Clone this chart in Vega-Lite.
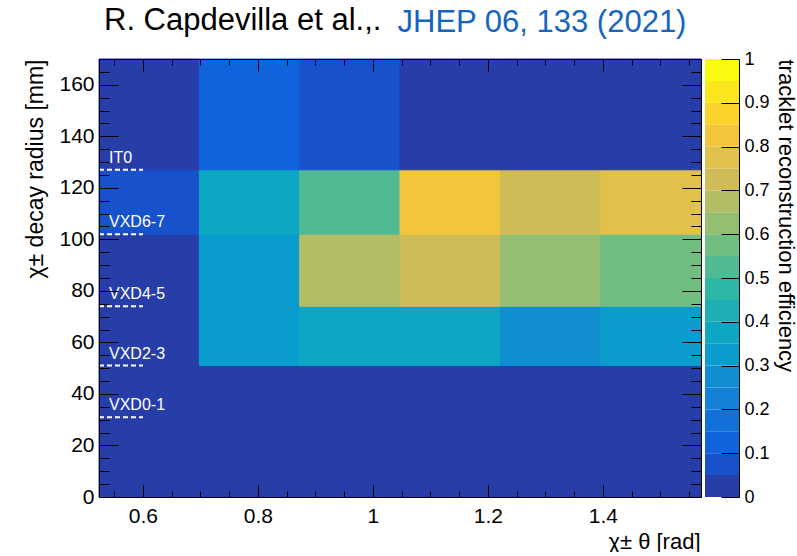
{
  "$schema": "https://vega.github.io/schema/vega-lite/v6.json",
  "autosize": {"type": "pad"},
  "padding": {"left": 23, "top": 5, "right": 0, "bottom": 0},
  "background": "white",
  "config": {
    "font": "Liberation Sans",
    "view": {"stroke": null},
    "axis": {"grid": false, "labelFont": "Liberation Sans", "titleFont": "Liberation Sans", "titleFontWeight": "normal", "labelColor": "black", "titleColor": "black", "tickColor": "black", "domainColor": "black", "domainWidth": 1, "tickWidth": 1, "labelFlush": false, "labelOverlap": false}
  },
  "title": {"text": "R. Capdevilla et al.,.", "anchor": "start", "frame": "group", "font": "Liberation Sans", "fontSize": 31, "fontWeight": "normal", "color": "black", "baseline": "top", "offset": 0, "dx": 5, "dy": 31},
  "datasets": {
    "cells": [
      {"t0": 0.5236, "t1": 0.6981, "r0": 0, "r1": 51, "eff": 0},
      {"t0": 0.6981, "t1": 0.8727, "r0": 0, "r1": 51, "eff": 0},
      {"t0": 0.8727, "t1": 1.0472, "r0": 0, "r1": 51, "eff": 0},
      {"t0": 1.0472, "t1": 1.2217, "r0": 0, "r1": 51, "eff": 0},
      {"t0": 1.2217, "t1": 1.3963, "r0": 0, "r1": 51, "eff": 0},
      {"t0": 1.3963, "t1": 1.5708, "r0": 0, "r1": 51, "eff": 0},
      {"t0": 0.5236, "t1": 0.6981, "r0": 51, "r1": 74, "eff": 0},
      {"t0": 0.6981, "t1": 0.8727, "r0": 51, "r1": 74, "eff": 0.33},
      {"t0": 0.8727, "t1": 1.0472, "r0": 51, "r1": 74, "eff": 0.37},
      {"t0": 1.0472, "t1": 1.2217, "r0": 51, "r1": 74, "eff": 0.38},
      {"t0": 1.2217, "t1": 1.3963, "r0": 51, "r1": 74, "eff": 0.28},
      {"t0": 1.3963, "t1": 1.5708, "r0": 51, "r1": 74, "eff": 0.33},
      {"t0": 0.5236, "t1": 0.6981, "r0": 74, "r1": 102, "eff": 0},
      {"t0": 0.6981, "t1": 0.8727, "r0": 74, "r1": 102, "eff": 0.32},
      {"t0": 0.8727, "t1": 1.0472, "r0": 74, "r1": 102, "eff": 0.68},
      {"t0": 1.0472, "t1": 1.2217, "r0": 74, "r1": 102, "eff": 0.72},
      {"t0": 1.2217, "t1": 1.3963, "r0": 74, "r1": 102, "eff": 0.62},
      {"t0": 1.3963, "t1": 1.5708, "r0": 74, "r1": 102, "eff": 0.57},
      {"t0": 0.5236, "t1": 0.6981, "r0": 102, "r1": 127, "eff": 0.08},
      {"t0": 0.6981, "t1": 0.8727, "r0": 102, "r1": 127, "eff": 0.37},
      {"t0": 0.8727, "t1": 1.0472, "r0": 102, "r1": 127, "eff": 0.52},
      {"t0": 1.0472, "t1": 1.2217, "r0": 102, "r1": 127, "eff": 0.83},
      {"t0": 1.2217, "t1": 1.3963, "r0": 102, "r1": 127, "eff": 0.73},
      {"t0": 1.3963, "t1": 1.5708, "r0": 102, "r1": 127, "eff": 0.78},
      {"t0": 0.5236, "t1": 0.6981, "r0": 127, "r1": 170, "eff": 0},
      {"t0": 0.6981, "t1": 0.8727, "r0": 127, "r1": 170, "eff": 0.12},
      {"t0": 0.8727, "t1": 1.0472, "r0": 127, "r1": 170, "eff": 0.07},
      {"t0": 1.0472, "t1": 1.2217, "r0": 127, "r1": 170, "eff": 0},
      {"t0": 1.2217, "t1": 1.3963, "r0": 127, "r1": 170, "eff": 0},
      {"t0": 1.3963, "t1": 1.5708, "r0": 127, "r1": 170, "eff": 0}
    ],
    "layers": [
      {"name": "VXD0-1", "r": 31},
      {"name": "VXD2-3", "r": 51},
      {"name": "VXD4-5", "r": 74},
      {"name": "VXD6-7", "r": 102},
      {"name": "IT0", "r": 127}
    ],
    "bins": [
      {"lo": 0.0, "hi": 0.05, "mid": 0.025},
      {"lo": 0.05, "hi": 0.1, "mid": 0.075},
      {"lo": 0.1, "hi": 0.15, "mid": 0.125},
      {"lo": 0.15, "hi": 0.2, "mid": 0.175},
      {"lo": 0.2, "hi": 0.25, "mid": 0.225},
      {"lo": 0.25, "hi": 0.3, "mid": 0.275},
      {"lo": 0.3, "hi": 0.35, "mid": 0.325},
      {"lo": 0.35, "hi": 0.4, "mid": 0.375},
      {"lo": 0.4, "hi": 0.45, "mid": 0.425},
      {"lo": 0.45, "hi": 0.5, "mid": 0.475},
      {"lo": 0.5, "hi": 0.55, "mid": 0.525},
      {"lo": 0.55, "hi": 0.6, "mid": 0.575},
      {"lo": 0.6, "hi": 0.65, "mid": 0.625},
      {"lo": 0.65, "hi": 0.7, "mid": 0.675},
      {"lo": 0.7, "hi": 0.75, "mid": 0.725},
      {"lo": 0.75, "hi": 0.8, "mid": 0.775},
      {"lo": 0.8, "hi": 0.85, "mid": 0.825},
      {"lo": 0.85, "hi": 0.9, "mid": 0.875},
      {"lo": 0.9, "hi": 0.95, "mid": 0.925},
      {"lo": 0.95, "hi": 1.0, "mid": 0.975}
    ]
  },
  "spacing": 4,
  "bounds": "flush",
  "hconcat": [
    {
      "width": 602,
      "height": 438,
      "layer": [
        {
          "data": {"name": "cells"},
          "mark": {"type": "rect", "strokeWidth": 1},
          "encoding": {
            "x": {"field": "t0", "type": "quantitative",
              "scale": {"domain": [0.5236, 1.5708], "zero": false, "nice": false},
              "axis": {"orient": "bottom", "domain": true, "zindex": 2,
                "values": [0.55, 0.6, 0.65, 0.7, 0.75, 0.8, 0.85, 0.9, 0.95, 1.0, 1.05, 1.1, 1.15, 1.2, 1.25, 1.3, 1.35, 1.4, 1.45, 1.5, 1.55],
                "labelExpr": "abs(datum.value*5 - round(datum.value*5)) < 0.001 ? format(datum.value, '~g') : ''",
                "tickSize": {"condition": {"test": "abs(datum.value*5 - round(datum.value*5)) < 0.001", "value": -12}, "value": -6},
                "labelFontSize": 21, "labelPadding": 20,
                "title": "χ± θ [rad]", "titleFontSize": 22, "titleAlign": "right", "titleBaseline": "alphabetic", "titleX": 601, "titleY": 51}},
            "x2": {"field": "t1"},
            "y": {"field": "r0", "type": "quantitative",
              "scale": {"domain": [0, 170], "nice": false, "zero": false},
              "axis": {"orient": "left", "domain": true, "zindex": 2,
                "values": [0, 5, 10, 15, 20, 25, 30, 35, 40, 45, 50, 55, 60, 65, 70, 75, 80, 85, 90, 95, 100, 105, 110, 115, 120, 125, 130, 135, 140, 145, 150, 155, 160, 165, 170],
                "labelExpr": "datum.value % 20 === 0 && datum.value < 170 ? datum.label : ''",
                "tickSize": {"condition": {"test": "datum.value % 20 === 0", "value": -19}, "value": -10},
                "labelFontSize": 21, "labelPadding": 24,
                "title": "χ± decay radius [mm]", "titleFontSize": 23, "titleAngle": -90, "titleAlign": "right", "titleBaseline": "alphabetic", "titleX": -57, "titleY": 0}},
            "y2": {"field": "r1"},
            "color": {"field": "eff", "type": "quantitative",
              "scale": {"type": "threshold", "domain": [0.05, 0.1, 0.15, 0.2, 0.25, 0.3, 0.35, 0.4, 0.45, 0.5, 0.55, 0.6, 0.65, 0.7, 0.75, 0.8, 0.85, 0.9, 0.95],
                "range": ["#273da7", "#1751cb", "#1063dc", "#1271d9", "#1480d6", "#0f8ed1", "#099ccc", "#0da7c3", "#1dafb4", "#2db7a4", "#51ba92", "#72bd81", "#94be72", "#b2bd66", "#d0bb59", "#e1c04b", "#f4c53b", "#fdd22b", "#fbe61d", "#f9fa0f"]},
              "legend": null},
            "stroke": {"field": "eff", "type": "quantitative",
              "scale": {"type": "threshold", "domain": [0.05, 0.1, 0.15, 0.2, 0.25, 0.3, 0.35, 0.4, 0.45, 0.5, 0.55, 0.6, 0.65, 0.7, 0.75, 0.8, 0.85, 0.9, 0.95],
                "range": ["#273da7", "#1751cb", "#1063dc", "#1271d9", "#1480d6", "#0f8ed1", "#099ccc", "#0da7c3", "#1dafb4", "#2db7a4", "#51ba92", "#72bd81", "#94be72", "#b2bd66", "#d0bb59", "#e1c04b", "#f4c53b", "#fdd22b", "#fbe61d", "#f9fa0f"]},
              "legend": null}
          }
        },
        {
          "data": {"name": "layers"},
          "mark": {"type": "rule", "color": "white", "strokeWidth": 2, "strokeDash": [5, 3]},
          "encoding": {
            "y": {"field": "r", "type": "quantitative",
              "axis": {"orient": "right", "domain": true, "labels": false, "title": null, "zindex": 2,
                "values": [0, 5, 10, 15, 20, 25, 30, 35, 40, 45, 50, 55, 60, 65, 70, 75, 80, 85, 90, 95, 100, 105, 110, 115, 120, 125, 130, 135, 140, 145, 150, 155, 160, 165, 170],
                "tickSize": {"condition": {"test": "datum.value % 20 === 0", "value": -19}, "value": -10}}},
            "x": {"datum": 0.5236, "type": "quantitative",
              "axis": {"orient": "top", "domain": true, "labels": false, "zindex": 2,
                "values": [0.55, 0.6, 0.65, 0.7, 0.75, 0.8, 0.85, 0.9, 0.95, 1.0, 1.05, 1.1, 1.15, 1.2, 1.25, 1.3, 1.35, 1.4, 1.45, 1.5, 1.55],
                "tickSize": {"condition": {"test": "abs(datum.value*5 - round(datum.value*5)) < 0.001", "value": -12}, "value": -6},
                "title": "JHEP 06, 133 (2021)", "titleColor": "#1565c0", "titleFontSize": 31, "titleAlign": "left", "titleBaseline": "top", "titleX": 298, "titleY": -52}},
            "x2": {"datum": 0.6}
          }
        },
        {
          "data": {"name": "layers"},
          "mark": {"type": "text", "color": "white", "font": "Liberation Sans", "fontSize": 16, "align": "left", "baseline": "alphabetic", "dy": -7},
          "encoding": {
            "y": {"field": "r", "type": "quantitative", "axis": null},
            "x": {"datum": 0.541, "type": "quantitative", "axis": null},
            "text": {"field": "name"}
          }
        }
      ],
      "resolve": {"axis": {"x": "independent", "y": "independent"}}
    },
    {
      "width": 34,
      "height": 438,
      "data": {"name": "bins"},
      "mark": {"type": "rect", "strokeWidth": 1},
      "encoding": {
        "y": {"field": "lo", "type": "quantitative",
          "scale": {"domain": [0, 1], "nice": false, "zero": false},
          "axis": {"orient": "right", "domain": true, "zindex": 2,
            "values": [0, 0.1, 0.2, 0.3, 0.4, 0.5, 0.6, 0.7, 0.8, 0.9, 1],
            "labelExpr": "format(datum.value, '~g')",
            "tickSize": -18, "labelPadding": 23, "labelFontSize": 18,
            "title": "tracklet reconstruction efficiency", "titleFontSize": 22, "titleAngle": 90, "titleAlign": "left", "titleBaseline": "alphabetic", "titleX": 39, "titleY": 0}},
        "y2": {"field": "hi"},
        "color": {"field": "mid", "type": "quantitative",
          "scale": {"type": "threshold", "domain": [0.05, 0.1, 0.15, 0.2, 0.25, 0.3, 0.35, 0.4, 0.45, 0.5, 0.55, 0.6, 0.65, 0.7, 0.75, 0.8, 0.85, 0.9, 0.95],
            "range": ["#273da7", "#1751cb", "#1063dc", "#1271d9", "#1480d6", "#0f8ed1", "#099ccc", "#0da7c3", "#1dafb4", "#2db7a4", "#51ba92", "#72bd81", "#94be72", "#b2bd66", "#d0bb59", "#e1c04b", "#f4c53b", "#fdd22b", "#fbe61d", "#f9fa0f"]},
          "legend": null}
      }
    }
  ]
}
